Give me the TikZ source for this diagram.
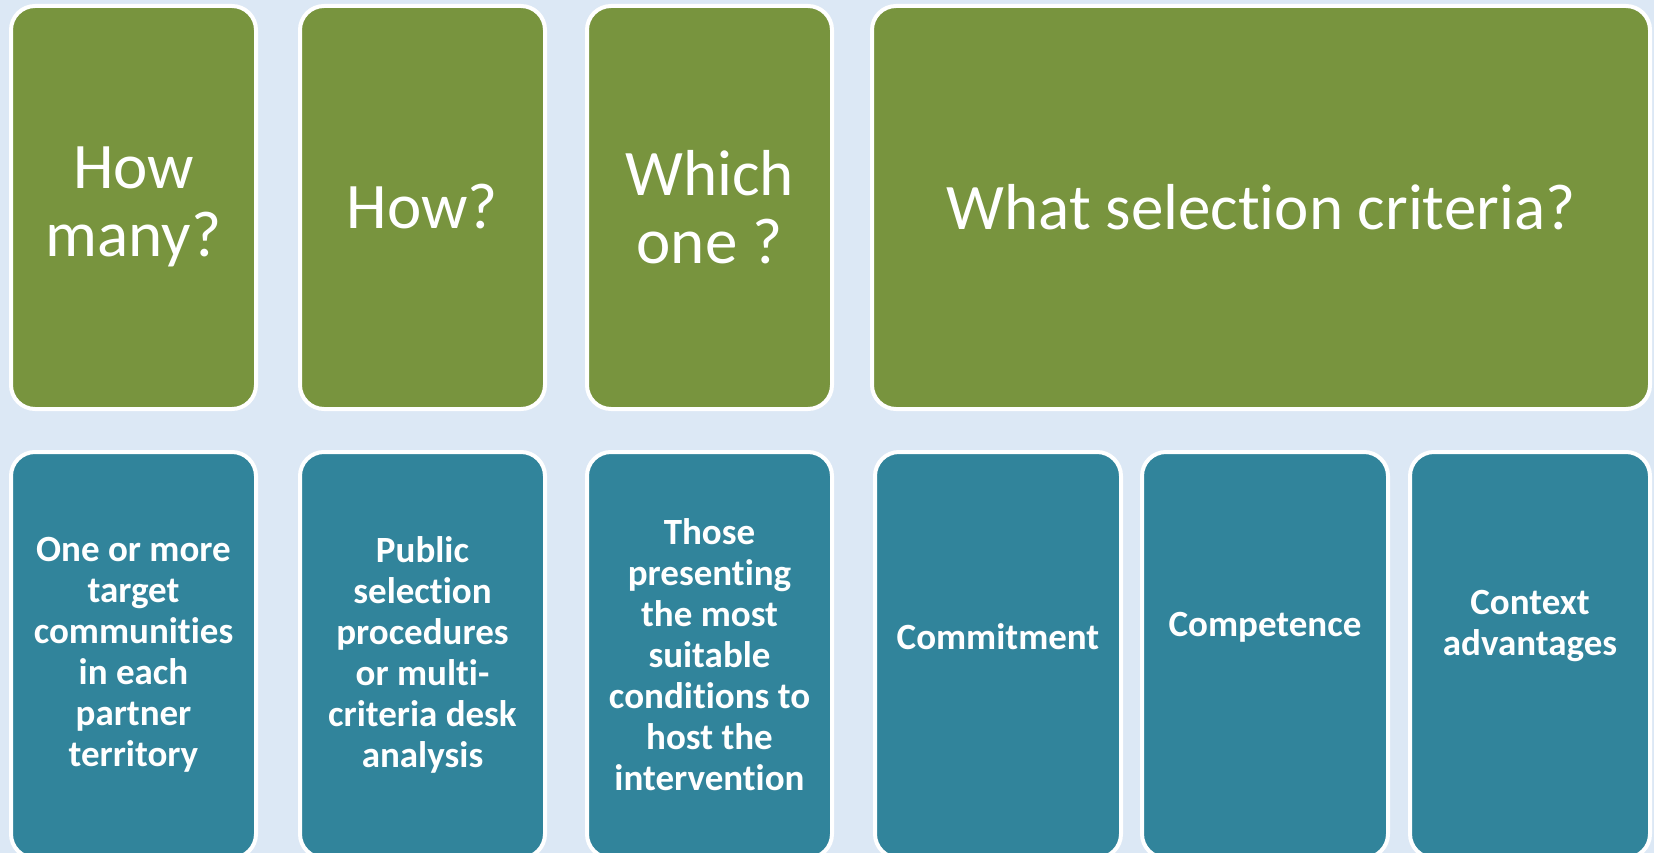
\documentclass[tikz,border=0pt]{standalone}
\usepackage{fontspec}
\setmainfont[Ligatures=NoCommon]{Carlito}

\definecolor{verde}{HTML}{78943E}
\definecolor{azul}{HTML}{31849B}
\definecolor{fondo}{HTML}{DCE8F5}

\tikzset{
    caja/.style={draw=white, line width=4pt, rounded corners=24pt},
    pregunta/.style={text=white, align=center, font=\fontsize{65}{68}\selectfont},
    respuesta/.style={text=white, align=center, font=\bfseries\fontsize{37}{41}\selectfont}
}

\begin{document}
\begin{tikzpicture}[x=1pt,y=-1pt]
    % Dibuja el fondo
    \useasboundingbox (0,0) rectangle (1654,853);
    \fill[fondo] (0,0) rectangle (1654,853);
    \clip (0,0) rectangle (1654,853);

    % Dibuja las cajas verdes de las preguntas
    \filldraw[caja, fill=verde] (11,6) rectangle (256,409);
    \filldraw[caja, fill=verde] (300,6) rectangle (545,409);
    \filldraw[caja, fill=verde] (587,6) rectangle (832,409);
    \filldraw[caja, fill=verde] (872,6) rectangle (1650,409);

    % Dibuja las cajas azules de las respuestas
    \filldraw[caja, fill=azul] (11,452) rectangle (256,858);
    \filldraw[caja, fill=azul] (300,452) rectangle (545,858);
    \filldraw[caja, fill=azul] (587,452) rectangle (832,858);
    \filldraw[caja, fill=azul] (875,452) rectangle (1121,858);
    \filldraw[caja, fill=azul] (1142,452) rectangle (1388,858);
    \filldraw[caja, fill=azul] (1410,452) rectangle (1650,858);

    % Escribe las preguntas
    \node[pregunta] (cuantas) at (133.5,207) {How\\many?};
    \node[pregunta] (como) at (422.5,207) {How?};
    \node[pregunta] (cual) at (709.5,207) {Which\\one ?};
    \node[pregunta] (criterios) at (1261,207) {What selection criteria?};

    % Escribe las respuestas
    \node[respuesta] (comunidades) at (133.5,655) {One or more\\target\\communities\\in each\\partner\\territory};
    \node[respuesta] (procedimientos) at (422.5,655) {Public\\selection\\procedures\\or multi-\\criteria desk\\analysis};
    \node[respuesta] (condiciones) at (709.5,655) {Those\\presenting\\the most\\suitable\\conditions to\\host the\\intervention};
    \node[respuesta] (compromiso) at (998,637) {Commitment};
    \node[respuesta] (competencia) at (1265,627) {Competence};
    \node[respuesta] (contexto) at (1530,626) {Context\\advantages};
\end{tikzpicture}
\end{document}
